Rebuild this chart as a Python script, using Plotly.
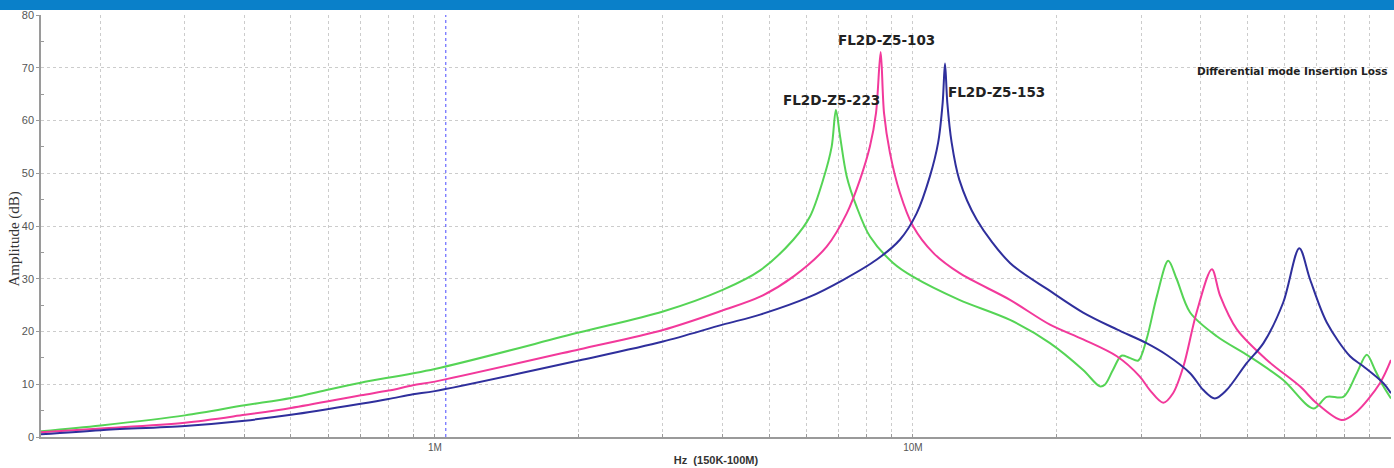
import math
import plotly.graph_objects as go

# ---------------- data (frequency in Hz, amplitude in dB) ----------------
freq_223 = [1.5e5, 2e5, 3e5, 4e5, 5e5, 6e5, 7e5, 1e6, 2e6, 3e6, 4e6, 4.79e6, 5.62e6,
            6.09e6, 6.49e6, 6.76e6, 6.90e6, 7.04e6, 7.27e6, 7.62e6, 8.13e6, 9.09e6,
            10.0e6, 12.5e6, 15.96e6, 19.35e6, 22.7e6, 24.6e6, 25.2e6, 26.2e6, 27.3e6,
            28.4e6, 29.6e6, 30.8e6, 32.4e6, 34.2e6, 35.6e6, 38.0e6, 43.2e6, 50.5e6,
            59.5e6, 68.8e6, 73.4e6, 79.5e6, 84.8e6, 89.0e6, 92.6e6, 96.4e6, 100e6]
amp_223 = [1.1, 2.2, 4.1, 6.0, 7.4, 9.0, 10.3, 12.9, 19.8, 23.8, 27.9, 31.6, 37.4,
           41.8, 48.8, 55.0, 62.0, 57.0, 49.4, 43.7, 38.0, 33.0,
           30.4, 26.0, 22.2, 17.8, 12.7, 9.6, 9.9, 12.7, 15.4,
           15.0, 14.5, 18.5, 26.8, 33.4, 30.0, 23.6, 19.1, 15.3,
           10.8, 5.4, 7.6, 7.6, 12.1, 15.6, 12.7, 9.6, 7.3]

freq_103 = [1.5e5, 2e5, 3e5, 4e5, 5e5, 7e5, 8e5, 9e5, 1e6, 2e6, 3e6, 4e6, 4.79e6,
            5.62e6, 6.60e6, 7.27e6, 7.75e6, 8.13e6, 8.37e6, 8.56e6, 8.70e6, 8.95e6,
            9.39e6, 10.0e6, 11.03e6, 12.5e6, 15.96e6, 19.35e6, 22.7e6, 26.7e6, 29.8e6,
            31.3e6, 33.4e6, 35.0e6, 36.8e6, 39.2e6, 42.2e6, 43.9e6, 47.6e6, 55.0e6,
            64.5e6, 69.9e6, 78.9e6, 84.8e6, 94.8e6, 100e6]
amp_103 = [0.9, 1.6, 2.7, 4.2, 5.5, 7.9, 8.8, 9.8, 10.5, 16.6, 20.3, 24.0, 26.6,
           30.4, 36.1, 42.4, 48.8, 55.1, 61.4, 73.0, 61.4, 53.9,
           46.3, 40.0, 34.9, 31.1, 26.0, 21.3, 18.5, 15.3, 11.5,
           8.9, 6.5, 8.3, 13.4, 23.6, 31.8, 26.8, 20.4, 14.6,
           9.6, 6.4, 3.2, 4.8, 10.2, 14.6]

freq_153 = [1.5e5, 2e5, 3e5, 4e5, 5e5, 7e5, 8e5, 9e5, 1e6, 2e6, 3e6, 4e6, 4.79e6,
            6.09e6, 7.15e6, 8.39e6, 9.39e6, 10.18e6, 10.85e6, 11.29e6, 11.54e6, 11.67e6,
            11.8e6, 12.05e6, 12.5e6, 13.6e6, 15.96e6, 19.35e6, 22.7e6, 26.7e6, 30.8e6,
            33.9e6, 38.0e6, 40.5e6, 42.8e6, 45.3e6, 49.9e6, 54.1e6, 59.5e6, 64.3e6,
            67.7e6, 73.4e6, 82.1e6, 87.5e6, 96.4e6, 100e6]
amp_153 = [0.5, 1.3, 2.1, 3.1, 4.2, 6.3, 7.2, 8.1, 8.7, 14.5, 18.1, 21.3, 23.2,
           26.6, 29.8, 33.6, 37.4, 42.4, 49.4, 55.8, 63.4, 70.8,
           63.4, 55.8, 48.8, 41.2, 33.0, 27.7, 23.6, 20.4, 17.8,
           15.6, 12.1, 8.9, 7.3, 8.9, 14.0, 17.8, 25.5, 35.8,
           29.9, 21.7, 15.3, 13.4, 10.2, 8.3]

marker_freq = 1.054e6  # blue dotted reference line

series_names = ["FL2D-Z5-223", "FL2D-Z5-103", "FL2D-Z5-153"]
series_colors = ["#55d455", "#f2399b", "#2f2f9c"]

grid_vals = [2e5, 3e5, 4e5, 5e5, 6e5, 7e5, 8e5, 9e5,
             1e6, 2e6, 3e6, 4e6, 5e6, 6e6, 7e6, 8e6, 9e6,
             1e7, 2e7, 3e7, 4e7, 5e7, 6e7, 7e7, 8e7, 9e7, 1e8]
grid_text = ["1M" if v == 1e6 else ("10M" if v == 1e7 else "") for v in grid_vals]

# label positions (data coords)
label_x = [6.77e6, 8.82e6, 14.98e6, 62.0e6]
label_y = [63.9, 75.3, 65.4, 69.4]
label_text = ["FL2D-Z5-223", "FL2D-Z5-103", "FL2D-Z5-153", "Differential mode Insertion Loss"]

# ---------------- figure ----------------
fig = go.Figure()

fig.add_trace(go.Scatter(x=[marker_freq, marker_freq], y=[0, 80], mode="lines",
                         line=dict(color="#4a4aff", width=1, dash="dot"),
                         hoverinfo="skip", showlegend=False))

for f, a, name, col in zip([freq_223, freq_103, freq_153],
                           [amp_223, amp_103, amp_153], series_names, series_colors):
    fig.add_trace(go.Scatter(x=f, y=a, mode="lines", name=name,
                             line=dict(color=col, width=2, shape="spline", smoothing=0.9),
                             showlegend=False))

for i, (lx, ly, lt) in enumerate(zip(label_x, label_y, label_text)):
    fig.add_annotation(x=math.log10(lx), y=ly, text=lt, showarrow=False,
                       font=dict(family="DejaVu Sans", size=10.5 if i == 3 else 13.5,
                                 color="#222222", weight="bold"))

# y-axis title as annotation
fig.add_annotation(xref="paper", yref="paper", x=-0.0193, y=0.47, xanchor="center",
                   yanchor="middle", text="Amplitude (dB)", textangle=-90, showarrow=False,
                   font=dict(family="Liberation Serif", size=15, color="#333333"))

# blue header band
fig.add_shape(type="rect", xref="paper", yref="paper", x0=-0.1, x1=1.1,
              y0=1 + 5 / 422, y1=1.1, fillcolor="#0a80c9", line_width=0, layer="above")

fig.update_layout(
    width=1394, height=468,
    margin=dict(l=41, r=3, t=15, b=31),
    paper_bgcolor="white", plot_bgcolor="white",
    font=dict(family="Liberation Sans", color="#555555"),
)

fig.update_xaxes(
    type="log", range=[5.176091259, 8.0],
    tickvals=grid_vals, ticktext=grid_text,
    tickfont=dict(size=10, color="#555555"),
    showgrid=True, gridcolor="#cccccc", griddash="dot", gridwidth=1,
    ticks="inside", ticklen=3, tickcolor="#999999",
    showline=True, linecolor="#9a9a9a", linewidth=2,
    title=dict(text="<b>Hz\u00a0\u00a0(150K-100M)</b>", font=dict(size=11, color="#333333"), standoff=4),
    zeroline=False,
)
fig.update_yaxes(
    range=[0, 80], tickvals=[0, 10, 20, 30, 40, 50, 60, 70, 80],
    tickfont=dict(size=11, color="#555555"),
    showgrid=True, gridcolor="#cccccc", griddash="dot", gridwidth=1,
    ticks="outside", ticklen=3, tickcolor="#999999",
    minor=dict(tickvals=[5, 15, 25, 35, 45, 55, 65, 75], ticks="inside", ticklen=3,
               tickcolor="#999999", showgrid=False),
    showline=True, linecolor="#9a9a9a", linewidth=1.5,
    zeroline=False,
)

fig.write_html("out.html", config={"displayModeBar": False},
               post_script="document.body.style.margin='0';")
